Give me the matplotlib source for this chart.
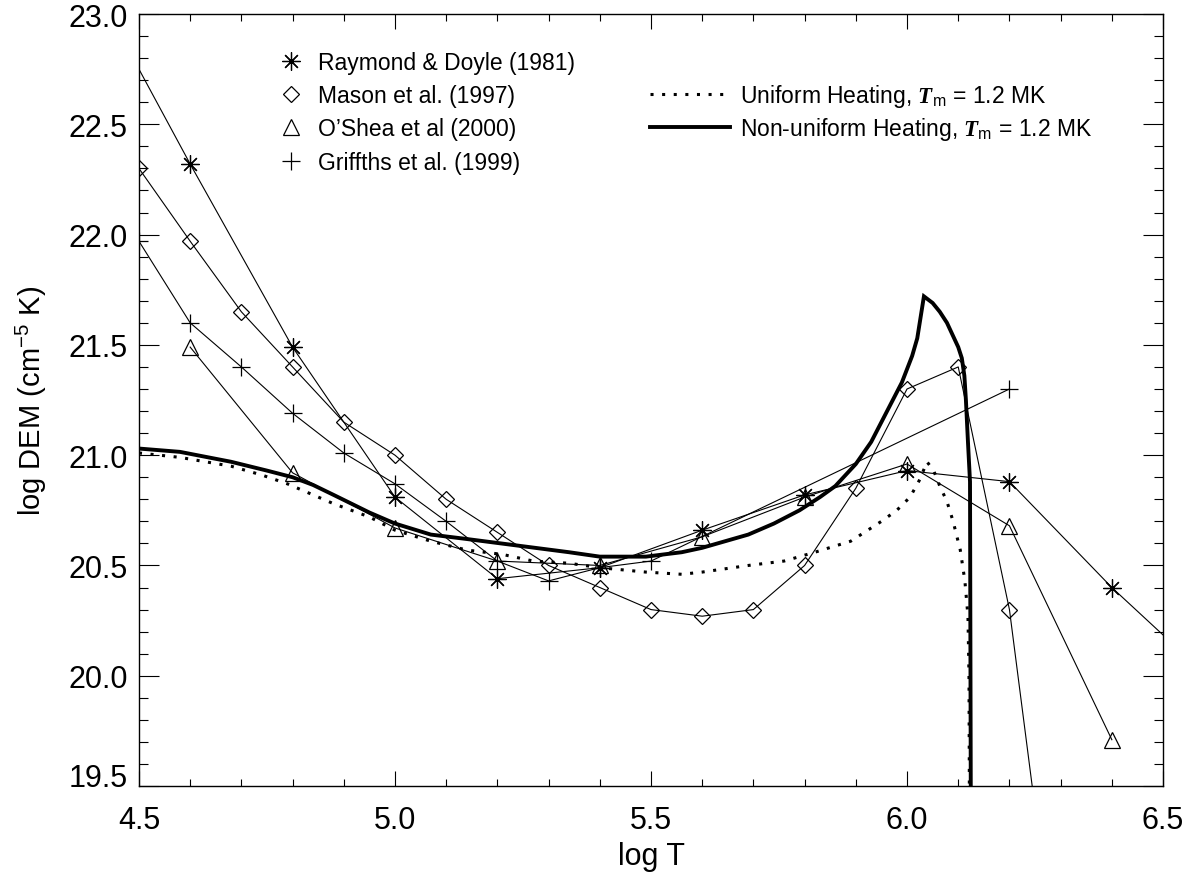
"""
Differential emission measure vs temperature: observed DEMs
compared with uniform / non-uniform heating loop models.
"""
import matplotlib
matplotlib.use('Agg')
import matplotlib.pyplot as plt
from matplotlib.lines import Line2D
from matplotlib.ticker import MultipleLocator, FuncFormatter

plt.rcParams['font.family'] = ['Liberation Sans', 'DejaVu Sans']
plt.rcParams['mathtext.fontset'] = 'custom'
plt.rcParams['mathtext.rm'] = 'Liberation Sans'
plt.rcParams['mathtext.it'] = 'Liberation Sans:italic'
plt.rcParams['mathtext.bf'] = 'Liberation Serif:italic:bold'

raymond_t = [4.4, 4.6, 4.8, 5.0, 5.2, 5.4, 5.6, 5.8, 6.0, 6.2, 6.4, 6.6]
raymond_dem = [23.18, 22.32, 21.49, 20.81, 20.44, 20.49, 20.66, 20.82, 20.93, 20.88, 20.40, 19.97]

mason_t = [4.5, 4.6, 4.7, 4.8, 4.9, 5.0, 5.1, 5.2, 5.3, 5.4, 5.5, 5.6, 5.7, 5.8, 5.9,
           6.0, 6.1, 6.2, 6.3]
mason_dem = [22.30, 21.97, 21.65, 21.40, 21.15, 21.00, 20.80, 20.65, 20.50, 20.40, 20.30,
             20.27, 20.30, 20.50, 20.85, 21.30, 21.40, 20.30, 18.50]

oshea_t = [4.6, 4.8, 5.0, 5.2, 5.4, 5.6, 5.8, 6.0, 6.2, 6.4]
oshea_dem = [21.49, 20.92, 20.67, 20.52, 20.50, 20.63, 20.81, 20.96, 20.68, 19.71]

griff_t = [4.5, 4.6, 4.7, 4.8, 4.9, 5.0, 5.1, 5.2, 5.3, 5.4, 5.5, 6.2]
griff_dem = [21.97, 21.60, 21.40, 21.19, 21.01, 20.87, 20.70, 20.52, 20.43, 20.49, 20.52, 21.30]

# model curves, Tm = 1.2 MK
uni_t = [4.50, 4.58, 4.68, 4.74, 4.79, 4.84, 4.88, 4.95, 5.00, 5.07, 5.14, 5.21, 5.27,
         5.34, 5.40, 5.49, 5.56, 5.60, 5.69, 5.76, 5.82, 5.89, 5.95, 5.98, 6.006, 6.025,
         6.039, 6.052, 6.064, 6.078, 6.090, 6.104, 6.113, 6.119, 6.121, 6.122]
uni_dem = [21.01, 20.99, 20.95, 20.91, 20.87, 20.82, 20.78, 20.72, 20.66, 20.61, 20.57,
           20.55, 20.52, 20.51, 20.49, 20.47, 20.46, 20.47, 20.50, 20.52, 20.56, 20.61,
           20.70, 20.75, 20.81, 20.89, 20.97, 20.93, 20.86, 20.79, 20.70, 20.57, 20.43,
           20.27, 20.00, 19.30]

nonuni_t = [4.50, 4.58, 4.68, 4.75, 4.80, 4.84, 4.88, 4.95, 5.00, 5.07, 5.14, 5.24, 5.34,
            5.40, 5.49, 5.56, 5.60, 5.69, 5.74, 5.79, 5.83, 5.86, 5.90, 5.93, 5.95, 5.97,
            5.99, 6.01, 6.02, 6.033, 6.050, 6.064, 6.078, 6.090, 6.100, 6.107, 6.112,
            6.115, 6.119, 6.123, 6.125]
nonuni_dem = [21.03, 21.015, 20.97, 20.93, 20.90, 20.865, 20.82, 20.74, 20.69, 20.64,
              20.62, 20.59, 20.56, 20.54, 20.54, 20.56, 20.58, 20.64, 20.69, 20.75, 20.81,
              20.86, 20.96, 21.06, 21.15, 21.24, 21.33, 21.45, 21.53, 21.72, 21.69, 21.65,
              21.60, 21.54, 21.49, 21.44, 21.36, 21.25, 21.06, 20.88, 19.00]

fig, ax = plt.subplots(figsize=(12.01, 8.78), dpi=100)
fig.subplots_adjust(left=0.1157, right=0.9684, bottom=0.1036, top=0.9829)

thin = dict(color='black', lw=0.8, mfc='none', mec='black', mew=0.9)
ax.plot(raymond_t, raymond_dem, marker=(8, 2, 0), ms=13, **thin)
ax.plot(mason_t, mason_dem, marker='D', ms=8.5, **thin)
ax.plot(oshea_t, oshea_dem, marker='^', ms=12, **thin)
ax.plot(griff_t, griff_dem, marker='+', ms=13, **thin)

ax.plot(uni_t, uni_dem, color='black', lw=2.2, linestyle=(0, (1, 2.8)),
        dash_capstyle='butt')
ax.plot(nonuni_t, nonuni_dem, color='black', lw=2.8, solid_joinstyle='miter')

ax.set_xlim(4.5, 6.5)
ax.set_ylim(19.5, 23.0)

# ticks, IDL style
ax.xaxis.set_major_locator(MultipleLocator(0.5))
ax.xaxis.set_minor_locator(MultipleLocator(0.1))
ax.yaxis.set_major_locator(MultipleLocator(0.5))
ax.yaxis.set_minor_locator(MultipleLocator(0.1))
ax.xaxis.set_major_formatter(FuncFormatter(lambda v, p: f'{v:.1f}'))
ax.yaxis.set_major_formatter(
    FuncFormatter(lambda v, p: '' if abs(v - 19.5) < 1e-6 else f'{v:.1f}'))
ax.tick_params(which='both', direction='in', top=True, right=True, width=0.8,
               color='black')
ax.tick_params(axis='x', which='major', length=10.5, pad=14, labelsize=22)
ax.tick_params(axis='x', which='minor', length=5)
ax.tick_params(axis='y', which='major', length=14.5, pad=8, labelsize=22)
ax.tick_params(axis='y', which='minor', length=6.5)
for s in ax.spines.values():
    s.set_linewidth(1.0)

# bottom y label sits on the axis line
ax.annotate('19.5', xy=(4.5, 19.5), xytext=(-8, 0), textcoords='offset points',
            ha='right', va='baseline', fontsize=22)

ax.set_xlabel('log T', fontsize=22, labelpad=4)
ax.set_ylabel(r'log DEM (cm$^{-5}$ K)', fontsize=21, labelpad=14)

# legends
mk = dict(ls='none', mfc='none', mec='black', mew=0.9)
obs_handles = [
    Line2D([], [], marker=(8, 2, 0), ms=13, **mk),
    Line2D([], [], marker='D', ms=8.5, **mk),
    Line2D([], [], marker='^', ms=12, **mk),
    Line2D([], [], marker='+', ms=13, **mk),
]
obs_labels = ['Raymond & Doyle (1981)', 'Mason et al. (1997)',
              "O\u2019Shea et al (2000)", 'Griffths et al. (1999)']
leg1 = ax.legend(obs_handles, obs_labels, loc='upper left',
                 bbox_to_anchor=(0.1377, 0.9517), frameon=False, fontsize=16.5,
                 handlelength=1.0, handletextpad=0.64, labelspacing=0.44,
                 borderpad=0, borderaxespad=0, numpoints=1)
ax.add_artist(leg1)

mod_handles = [
    Line2D([], [], color='black', lw=2.2, ls=(0, (1, 2.8)), dash_capstyle='butt'),
    Line2D([], [], color='black', lw=2.8),
]
mod_labels = [r'Uniform Heating, $\mathbf{T}_{\rm m}$ = 1.2 MK',
              r'Non-uniform Heating, $\mathbf{T}_{\rm m}$ = 1.2 MK']
ax.legend(mod_handles, mod_labels, loc='upper left',
          bbox_to_anchor=(0.499, 0.9115), frameon=False, fontsize=16.5,
          handlelength=3.5, handletextpad=0.44, labelspacing=0.24,
          borderpad=0, borderaxespad=0)

fig.savefig('out.png', dpi=100)
